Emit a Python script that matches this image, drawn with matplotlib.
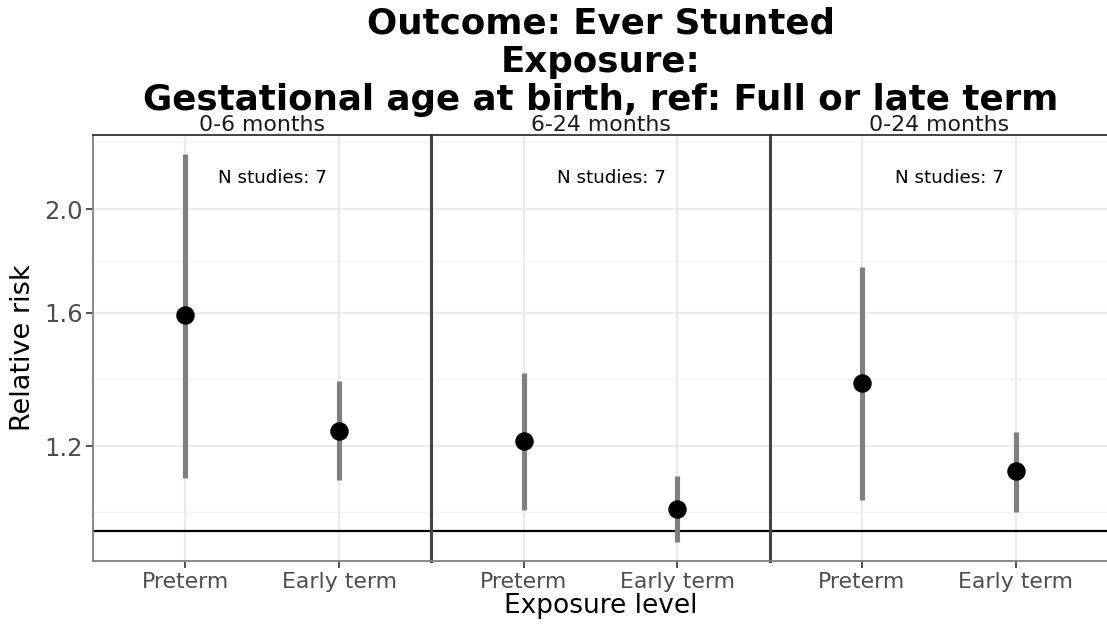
import numpy as np
import matplotlib
matplotlib.use('Agg')
import matplotlib.pyplot as plt

periods = ['0-6 months', '6-24 months', '0-24 months']
levels = ['Preterm', 'Early term']
rr = [[1.59, 1.24], [1.213, 1.048], [1.374, 1.137]]
lo = [[1.12, 1.115], [1.045, 0.975], [1.068, 1.041]]
hi = [[2.25, 1.38], [1.404, 1.125], [1.765, 1.236]]
n_studies = [7, 7, 7]
yticks = [1.2, 1.6, 2.0]
yminor = [1.04, 1.386, 1.789, 2.31]

W, H = 1107, 626
fig = plt.figure(figsize=(W / 100, H / 100), dpi=100)

left, right, bottom, top = 93, 1108, 561, 135
pw = (right - left) / 3
gray_txt = '#4d4d4d'

for i in range(3):
    ax = fig.add_axes([(left + i * pw) / W, 1 - bottom / H, pw / W, (bottom - top) / H])
    ax.set_yscale('log')
    ax.set_ylim(0.9366, 2.346)
    ax.set_xlim(-0.6, 1.6)
    xs = np.arange(len(levels))
    for y in yticks:
        ax.axhline(y, color='#ebebeb', lw=1.6, zorder=0)
    for y in yminor:
        ax.axhline(y, color='#f2f2f2', lw=1.0, zorder=0)
    for x in xs:
        ax.axvline(x, color='#ebebeb', lw=1.6, zorder=0)
    ax.axhline(1.0, color='black', lw=1.6, zorder=1)
    ax.vlines(xs, lo[i], hi[i], color='#7f7f7f', lw=3.7, zorder=2)
    ax.plot(xs, rr[i], 'o', color='black', ms=12.3, zorder=3)
    ax.text(0.57, 2.14, 'N studies: %d' % n_studies[i], ha='center', va='center',
            fontsize=13.2, color='black')
    ax.set_title(periods[i], fontsize=15.8, pad=1.0, color='#1a1a1a')
    ax.set_xticks(xs)
    ax.set_xticklabels(levels, fontsize=15.8, color=gray_txt)
    ax.yaxis.set_minor_locator(matplotlib.ticker.NullLocator())
    ax.set_yticks(yticks)
    if i == 0:
        ax.set_yticklabels(['%.1f' % y for y in yticks], fontsize=17.5, color=gray_txt)
        ax.set_ylabel('Relative risk', fontsize=19.5, labelpad=6)
        ax.tick_params(axis='y', length=5, width=1.2, color='#333333', pad=2)
    else:
        ax.tick_params(axis='y', length=0, labelleft=False)
    ax.tick_params(axis='x', length=5, width=1.2, color='#333333', pad=3)
    for s in ax.spines.values():
        s.set_color('#7f7f7f')
        s.set_linewidth(1.3)
    ax.spines['top'].set_color('#333333')
    if i > 0:
        ax.spines['left'].set_color('#444444')
        ax.spines['left'].set_linewidth(2.2)
    ax.spines['right'].set_visible(False)

fig.text((left + right) / 2 / W, 1 - 606 / H, 'Exposure level', ha='center', va='center',
         fontsize=19)

title_lines = ['Outcome: Ever Stunted', 'Exposure:', 'Gestational age at birth, ref: Full or late term']
baselines = [34, 72, 110]
for t, b in zip(title_lines, baselines):
    fig.text(601 / W, 1 - b / H, t, ha='center', va='baseline', fontsize=25.7,
             fontweight='bold')

fig.savefig('out.png', dpi=100)
